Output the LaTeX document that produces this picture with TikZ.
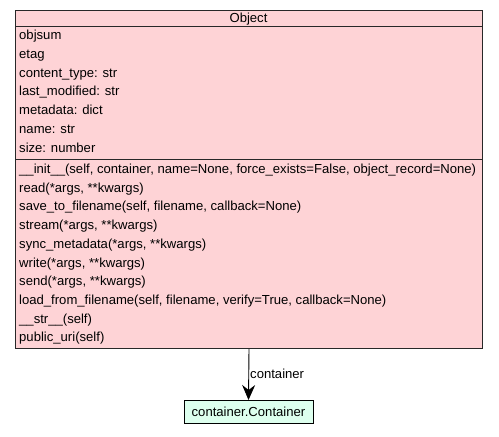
\documentclass[tikz,border=0pt]{standalone}
\usepackage{fontspec}
\setmainfont{Liberation Sans}
\usetikzlibrary{arrows.meta}
\definecolor{pinkfill}{RGB}{254,211,214}
\definecolor{mintfill}{RGB}{221,255,238}
\definecolor{boxline}{RGB}{40,40,40}
\tikzset{umlfont/.style={font=\fontsize{13.1}{14}\selectfont}}
\begin{document}
\begin{tikzpicture}[x=1pt,y=-1pt,
  txt/.style={anchor=base west,inner sep=0pt,umlfont},
  sect/.style={draw=boxline,line width=1pt,fill=pinkfill,inner sep=0pt},
]
\useasboundingbox (0,0) rectangle (499,437);
\node[sect,minimum width=467,minimum height=16,anchor=north west] (title) at (15,10) {};
\node[sect,minimum width=467,minimum height=133,anchor=north west] (attrs) at (15,26) {};
\node[sect,minimum width=467,minimum height=189,anchor=north west] (meths) at (15,159) {};
\node[txt,anchor=base] (tname) at (248.5,22.5) {Object};
\foreach \t [count=\i] in {objsum,etag,content\_type: str,last\_modified: str,metadata: dict,name: str,size: number}{
  \node[txt] (a\i) at (19,{39.5+(\i-1)*18.75}) {\t};
}
\foreach \t [count=\i] in {{\_\_init\_\_(self, container, name=None, force\_exists=False, object\_record=None)},{read(*args, **kwargs)},{save\_to\_filename(self, filename, callback=None)},{stream(*args, **kwargs)},{sync\_metadata(*args, **kwargs)},{write(*args, **kwargs)},{send(*args, **kwargs)},{load\_from\_filename(self, filename, verify=True, callback=None)},{\_\_str\_\_(self)},{public\_uri(self)}}{
  \node[txt] (m\i) at (19,{173.5+(\i-1)*18.7}) {\t};
}
\node[draw=black,line width=0.8pt,fill=mintfill,minimum width=129,minimum height=23,inner sep=0pt,anchor=north,umlfont] (cont) at (248.5,400) {container.Container};
\draw[line width=0.9pt,-{Stealth[width=13pt,length=15pt,inset=5pt]}] (meths.south) -- (cont.north) node[pos=0.48,anchor=west,inner sep=1pt,umlfont] (lbl) {container};
\end{tikzpicture}
\end{document}
